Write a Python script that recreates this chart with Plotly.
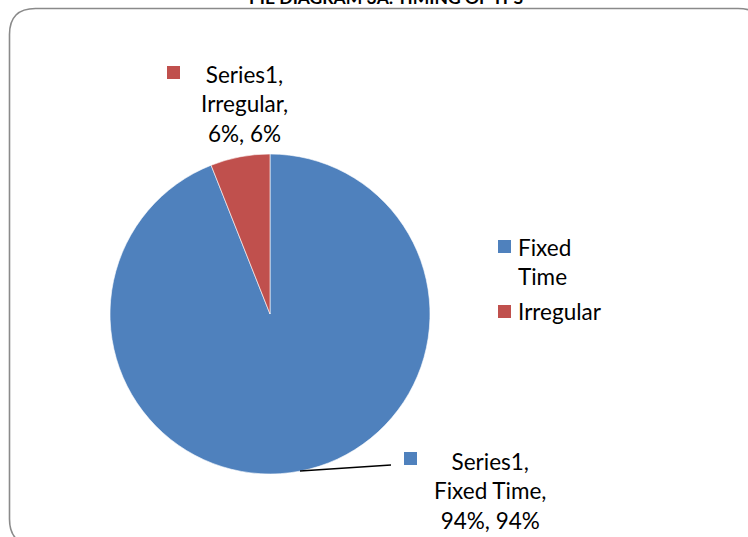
import plotly.graph_objects as go

# Timing of TPS
categories = ["Fixed Time", "Irregular"]
values = [94, 6]
series_name = "Series1"
colors = ["#4F81BD", "#C0504D"]
title_text = "PIE DIAGRAM 3A: TIMING OF TPS"

W, H = 748, 537
FONT = "Lato, 'Open Sans', sans-serif"
FS = 22.5


def px(x):
    return x / W


def py(y):
    return 1 - y / H


fig = go.Figure()
fig.add_trace(go.Pie(
    labels=categories,
    values=values,
    sort=False,
    direction="clockwise",
    rotation=0,
    marker=dict(colors=colors, line=dict(color="white", width=0.6)),
    textinfo="none",
    hoverinfo="label+percent",
    showlegend=False,
    domain=dict(x=[px(110), px(430)], y=[py(474), py(154)]),
))

shapes = []
annotations = []

# rounded chart-area border
r = 26
x0, y0, x1, y1 = 9.5, 8.5, 764, 545
path = (
    f"M {px(x0)},{py(y0 + r)} Q {px(x0)},{py(y0)} {px(x0 + r)},{py(y0)} "
    f"L {px(x1 - r)},{py(y0)} Q {px(x1)},{py(y0)} {px(x1)},{py(y0 + r)} "
    f"L {px(x1)},{py(y1 - r)} Q {px(x1)},{py(y1)} {px(x1 - r)},{py(y1)} "
    f"L {px(x0 + r)},{py(y1)} Q {px(x0)},{py(y1)} {px(x0)},{py(y1 - r)} Z"
)
shapes.append(dict(type="path", xref="paper", yref="paper", path=path,
                   line=dict(color="#8A8A8A", width=1.6)))

# title (sits at the very top edge of the page)
annotations.append(dict(
    x=px(386), y=py(10), xref="paper", yref="paper", xanchor="center",
    yanchor="bottom", showarrow=False, text=f"<b>{title_text}</b>",
    font=dict(family=FONT, size=17.5, color="black"),
))

# data labels: (square left x, square top y, text center x, block center y)
label_pos = {
    "Irregular": (167, 66, 245, 104),
    "Fixed Time": (404, 452, 490, 491),
}
for cat, val, col in zip(categories, values, colors):
    sx, sy, tx, ty = label_pos[cat]
    shapes.append(dict(type="rect", xref="paper", yref="paper",
                       x0=px(sx), x1=px(sx + 13), y0=py(sy + 13), y1=py(sy),
                       fillcolor=col, line=dict(width=0)))
    annotations.append(dict(
        x=px(tx), y=py(ty), xref="paper", yref="paper", xanchor="center",
        yanchor="middle", align="center", showarrow=False,
        text=f"{series_name},<br>{cat},<br>{val}%, {val}%",
        font=dict(family=FONT, size=FS, color="black"),
    ))

# leader line for the large slice label
shapes.append(dict(type="line", xref="paper", yref="paper",
                   x0=px(300), y0=py(471), x1=px(391), y1=py(465),
                   line=dict(color="black", width=1.3)))

# legend: (square left x, square top y, text block center y)
legend_pos = {"Fixed Time": (498, 240, 262), "Irregular": (498, 305, 311)}
for cat, col in zip(categories, colors):
    sx, sy, cy = legend_pos[cat]
    shapes.append(dict(type="rect", xref="paper", yref="paper",
                       x0=px(sx), x1=px(sx + 13), y0=py(sy + 13), y1=py(sy),
                       fillcolor=col, line=dict(width=0)))
    annotations.append(dict(
        x=px(sx + 18), y=py(cy), xref="paper", yref="paper",
        xanchor="left", yanchor="middle", align="left", showarrow=False,
        text=cat.replace(" ", "<br>") if cat == "Fixed Time" else cat,
        font=dict(family=FONT, size=FS, color="black"),
    ))

fig.update_layout(
    width=W, height=H,
    margin=dict(l=0, r=0, t=0, b=0),
    paper_bgcolor="white",
    plot_bgcolor="white",
    shapes=shapes,
    annotations=annotations,
)

fig.write_html("out.html")
